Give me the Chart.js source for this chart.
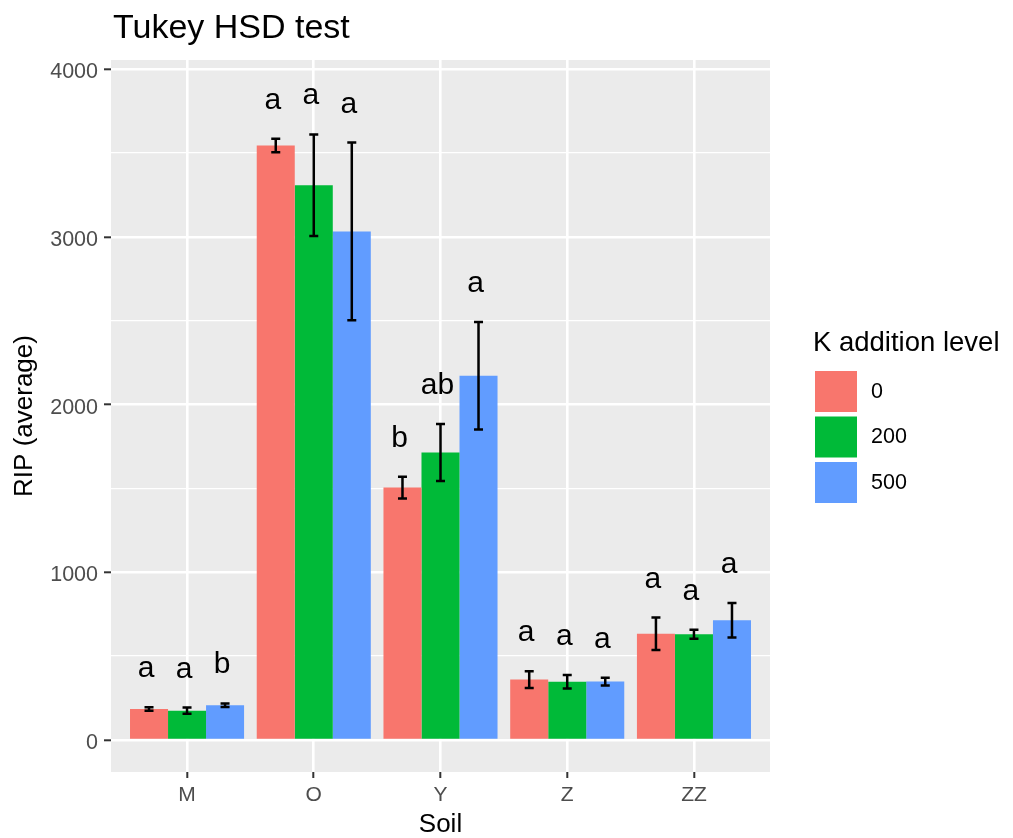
<!DOCTYPE html>
<html><head><meta charset="utf-8">
<script src="https://cdn.jsdelivr.net/npm/chart.js@4.4.1/dist/chart.umd.min.js"></script>
<style>html,body{margin:0;padding:0;background:#fff}canvas{display:block}</style>
</head><body>
<canvas id="c" width="1013" height="838"></canvas>
<script>
const categories = ['M', 'O', 'Y', 'Z', 'ZZ'];
const levels = ['0', '200', '500'];
const mean0   = [185, 3545, 1505, 360, 633];
const mean200 = [175, 3308, 1715, 347, 631];
const mean500 = [207, 3033, 2172, 348, 714];
const err0    = [10, 40, 65, 50, 97];
const err200  = [18, 303, 170, 40, 27];
const err500  = [11, 530, 320, 23, 103];
const letters0   = ['a', 'a', 'b', 'a', 'a'];
const letters200 = ['a', 'a', 'ab', 'a', 'a'];
const letters500 = ['b', 'a', 'a', 'a', 'a'];
const yTickValues = [0, 500, 1000, 1500, 2000, 2500, 3000, 3500, 4000];
const xTickValues = [1, 2, 3, 4, 5];

const FONT = '"Liberation Sans", Arial, Helvetica, sans-serif';
const colors = ['#F8766D', '#00BA38', '#619CFF'];
const means = [mean0, mean200, mean500];
const errs = [err0, err200, err500];
const letters = [letters0, letters200, letters500];

const panelBg = {
  id: 'panelBg',
  beforeDraw(chart) {
    const {ctx, chartArea: a} = chart;
    ctx.save();
    ctx.fillStyle = '#EBEBEB';
    ctx.fillRect(a.left, a.top, a.right - a.left, a.bottom - a.top);
    ctx.restore();
  }
};

const errorBars = {
  id: 'errorBars',
  afterDatasetsDraw(chart) {
    const ctx = chart.ctx;
    const ys = chart.scales.y;
    ctx.save();
    chart.data.datasets.forEach((ds, d) => {
      const meta = chart.getDatasetMeta(d);
      meta.data.forEach((bar, i) => {
        const m = means[d][i], e = errs[d][i];
        const top = ys.getPixelForValue(m + e);
        const bot = ys.getPixelForValue(m - e);
        const x = bar.x;
        ctx.strokeStyle = '#000';
        ctx.lineWidth = 2.5;
        ctx.beginPath();
        ctx.moveTo(x, top); ctx.lineTo(x, bot);
        ctx.moveTo(x - 4.5, top); ctx.lineTo(x + 4.5, top);
        ctx.moveTo(x - 4.5, bot); ctx.lineTo(x + 4.5, bot);
        ctx.stroke();
        ctx.fillStyle = '#000';
        ctx.font = '30px ' + FONT;
        ctx.textAlign = 'center';
        ctx.textBaseline = 'alphabetic';
        ctx.fillText(letters[d][i], x - 3, top - 30);
      });
    });
    ctx.restore();
  }
};

const titleLegend = {
  id: 'titleLegend',
  afterDraw(chart) {
    const ctx = chart.ctx;
    const a = chart.chartArea;
    ctx.save();
    ctx.fillStyle = '#000';
    ctx.textAlign = 'left';
    ctx.textBaseline = 'alphabetic';
    ctx.font = '34px ' + FONT;
    ctx.fillText('Tukey HSD test', a.left + 2, 38);
    // legend
    const lx = a.right + 43;
    ctx.font = '27.5px ' + FONT;
    ctx.fillText('K addition level', lx, 351);
    chart.data.datasets.forEach((ds, d) => {
      const ky = 371 + d * 45.5;
      ctx.fillStyle = ds.backgroundColor;
      ctx.fillRect(lx + 2, ky, 42, 41);
      ctx.fillStyle = '#000';
      ctx.font = '21.5px ' + FONT;
      ctx.textBaseline = 'middle';
      ctx.fillText(ds.label, lx + 58, ky + 21);
      ctx.textBaseline = 'alphabetic';
    });
    ctx.restore();
  }
};

const datasets = levels.map((lv, d) => ({
  label: lv,
  data: categories.map((c, i) => ({x: i + 1, y: means[d][i]})),
  backgroundColor: colors[d],
  borderWidth: 0,
  categoryPercentage: 0.9,
  barPercentage: 1.0
}));

new Chart(document.getElementById('c'), {
  type: 'bar',
  data: {datasets},
  options: {
    responsive: false,
    devicePixelRatio: 1,
    animation: false,
    layout: {padding: {top: 60, right: 243, left: 0, bottom: 0}},
    plugins: {legend: {display: false}, tooltip: {enabled: false}, title: {display: false}},
    scales: {
      x: {
        type: 'linear',
        min: 0.4, max: 5.6,
        offset: false,
        grid: {offset: false, color: '#FFFFFF', lineWidth: 2.6, tickLength: 6, tickColor: '#333333', tickWidth: 2},
        border: {display: false},
        afterBuildTicks: s => { s.ticks = xTickValues.map(v => ({value: v})); },
        afterFit: s => { s.height = 66; },
        ticks: {
          autoSkip: false, maxRotation: 0,
          callback: v => categories[v - 1],
          color: '#4D4D4D', font: {family: FONT, size: 21}, padding: 5
        },
        title: {display: true, text: 'Soil', color: '#000', font: {family: FONT, size: 26, lineHeight: 1}, padding: {top: 0, bottom: 0}}
      },
      y: {
        type: 'linear',
        min: -191, max: 4055,
        grid: {
          color: '#FFFFFF',
          lineWidth: c => (c.tick && c.tick.value % 1000 === 0) ? 2.6 : 1.3,
          tickLength: 7,
          tickColor: c => (c.tick && c.tick.value % 1000 === 0) ? '#333333' : 'rgba(0,0,0,0)',
          tickWidth: 2
        },
        border: {display: false},
        afterBuildTicks: s => { s.ticks = yTickValues.map(v => ({value: v})); },
        afterFit: s => { s.width = 111; },
        ticks: {
          autoSkip: false,
          callback: v => (v % 1000 === 0 ? String(v) : ''),
          color: '#4D4D4D', font: {family: FONT, size: 21.5}, padding: 6, labelOffset: 3
        },
        title: {display: true, text: 'RIP (average)', color: '#000', font: {family: FONT, size: 26, lineHeight: 1}, padding: {top: 12, bottom: 0}}
      }
    }
  },
  plugins: [panelBg, errorBars, titleLegend]
});
</script>
</body></html>
